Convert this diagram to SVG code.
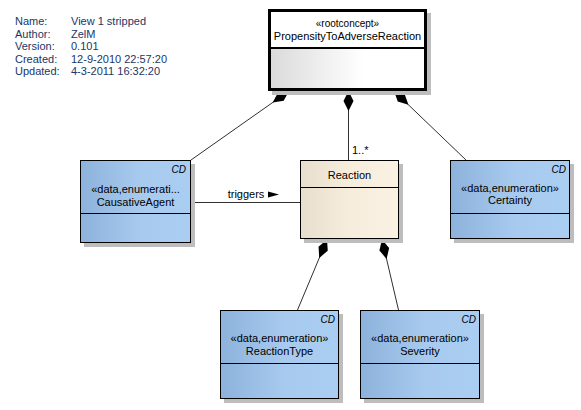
<svg xmlns="http://www.w3.org/2000/svg" width="581" height="410" viewBox="0 0 581 410">
<defs>
<linearGradient id="blue" x1="0" y1="0" x2="1" y2="0">
<stop offset="0" stop-color="#8db2db"/><stop offset="0.55" stop-color="#a8caef"/><stop offset="1" stop-color="#aacdf2"/>
</linearGradient>
<linearGradient id="beige" x1="0" y1="0" x2="1" y2="0">
<stop offset="0" stop-color="#e8dece"/><stop offset="0.5" stop-color="#f7eddd"/><stop offset="1" stop-color="#faf1e3"/>
</linearGradient>
<linearGradient id="grey" x1="0" y1="0" x2="1" y2="0">
<stop offset="0" stop-color="#dadada"/><stop offset="0.6" stop-color="#ffffff"/><stop offset="1" stop-color="#ffffff"/>
</linearGradient>
<marker id="dia" markerUnits="userSpaceOnUse" markerWidth="22" markerHeight="12" refX="0" refY="6" orient="auto" overflow="visible">
<path d="M0,6 L10,1 L20,6 L10,11 Z" fill="#000"/>
</marker>
</defs>
<style>
.hdr{font-family:"Liberation Sans",Arial,sans-serif;font-size:11px;fill:#1c3566}
.t{font-family:"Liberation Sans",Arial,sans-serif;font-size:11px;fill:#000;text-anchor:middle}
.cd{font-family:"Liberation Sans",Arial,sans-serif;font-size:10px;font-style:italic;fill:#000;text-anchor:end}
.sh{fill:#bdbdbd}
.box{stroke:#000;stroke-width:1}
.ln{stroke:#303030;stroke-width:1;fill:none}
</style>
<g id="header">
<text class="hdr" x="15" y="25">Name:</text><text class="hdr" x="71" y="25">View 1 stripped</text>
<text class="hdr" x="15" y="37.5">Author:</text><text class="hdr" x="71" y="37.5">ZelM</text>
<text class="hdr" x="15" y="50">Version:</text><text class="hdr" x="71" y="50">0.101</text>
<text class="hdr" x="15" y="62.5">Created:</text><text class="hdr" x="71" y="62.5">12-9-2010 22:57:20</text>
<text class="hdr" x="15" y="75">Updated:</text><text class="hdr" x="71" y="75">4-3-2011 16:32:20</text>
</g>
<g id="connectors">
<line class="ln" x1="289" y1="91" x2="191" y2="160" marker-start="url(#dia)"/>
<line class="ln" x1="348.5" y1="91" x2="348.5" y2="160" marker-start="url(#dia)"/>
<line class="ln" x1="394" y1="91" x2="466" y2="160" marker-start="url(#dia)"/>
<line class="ln" x1="327" y1="239.5" x2="297.5" y2="310" marker-start="url(#dia)"/>
<line class="ln" x1="382" y1="239.5" x2="398.5" y2="310" marker-start="url(#dia)"/>
<line class="ln" x1="191" y1="202.5" x2="300" y2="202.5"/>
<text class="t" x="246" y="198">triggers</text>
<polygon points="268,191.5 279,194.5 268,197.5" fill="#000"/>
<text class="t" x="352" y="154" style="text-anchor:start">1..*</text>
</g>
<g id="PropensityToAdverseReaction">
<rect class="sh" x="272" y="13" width="159" height="82"/>
<rect x="268" y="9" width="159" height="82" fill="#fff"/>
<rect x="269.5" y="48" width="156" height="41.5" fill="url(#grey)"/>
<rect x="269.5" y="10.5" width="156" height="79" fill="none" stroke="#000" stroke-width="3"/>
<line x1="269" y1="48" x2="426" y2="48" stroke="#000" stroke-width="2"/>
<text class="t" x="347.5" y="27" style="font-size:10px">«rootconcept»</text>
<text class="t" x="347.5" y="39.5">PropensityToAdverseReaction</text>
</g>
<g id="CausativeAgent">
<rect class="sh" x="84" y="164" width="111" height="83"/>
<rect class="box" x="80.5" y="160.5" width="110" height="82" fill="url(#blue)"/>
<line class="box" x1="80.5" y1="213.5" x2="190.5" y2="213.5"/>
<text class="cd" x="186" y="173">CD</text>
<text class="t" x="135.5" y="193">«data,enumerati...</text>
<text class="t" x="135.5" y="205.5">CausativeAgent</text>
</g>
<g id="Reaction">
<rect class="sh" x="304" y="164" width="99" height="79"/>
<rect class="box" x="300.5" y="160.5" width="98" height="78" fill="url(#beige)"/>
<line class="box" x1="300.5" y1="187.5" x2="398.5" y2="187.5"/>
<text class="t" x="349.5" y="179">Reaction</text>
</g>
<g id="Certainty">
<rect class="sh" x="454" y="164" width="120" height="79"/>
<rect class="box" x="450.5" y="160.5" width="119" height="78" fill="url(#blue)"/>
<line class="box" x1="450.5" y1="213.5" x2="569.5" y2="213.5"/>
<text class="cd" x="566" y="173">CD</text>
<text class="t" x="510" y="192">«data,enumeration»</text>
<text class="t" x="510" y="204">Certainty</text>
</g>
<g id="ReactionType">
<rect class="sh" x="224" y="314" width="119" height="89"/>
<rect class="box" x="220.5" y="310.5" width="118" height="88" fill="url(#blue)"/>
<line class="box" x1="220.5" y1="363.5" x2="338.5" y2="363.5"/>
<text class="cd" x="335" y="323">CD</text>
<text class="t" x="279.5" y="342">«data,enumeration»</text>
<text class="t" x="279.5" y="354.5">ReactionType</text>
</g>
<g id="Severity">
<rect class="sh" x="364" y="314" width="120" height="89"/>
<rect class="box" x="360.5" y="310.5" width="119" height="88" fill="url(#blue)"/>
<line class="box" x1="360.5" y1="363.5" x2="479.5" y2="363.5"/>
<text class="cd" x="476" y="323">CD</text>
<text class="t" x="420" y="342">«data,enumeration»</text>
<text class="t" x="420" y="354.5">Severity</text>
</g>
</svg>
